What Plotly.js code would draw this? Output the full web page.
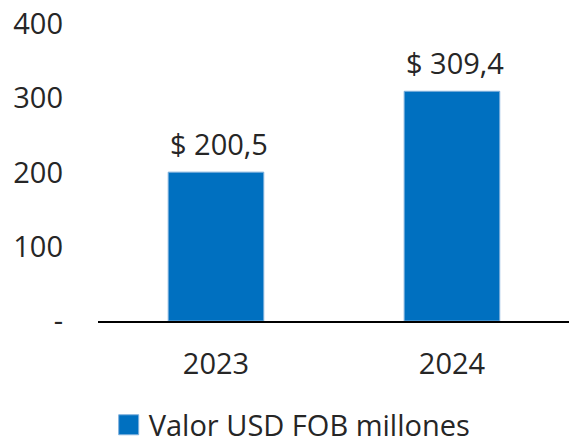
<!DOCTYPE html>
<html>
<head>
<meta charset="utf-8">
<script src="https://cdn.plot.ly/plotly-3.0.1.min.js"></script>
<style>html,body{margin:0;padding:0;background:#fff;}#chart{width:569px;height:444px;}</style>
</head>
<body>
<div id="chart"></div>
<script>
var categories = ['2023', '2024'];
var values = [200.5, 309.4];
var seriesName = 'Valor USD FOB millones';
var yTickVals = [0, 100, 200, 300, 400];
var yTickText = ['-', '100', '200', '300', '400'];

var fontFam = '"Open Sans", "Noto Sans", sans-serif';
var txtColor = '#262626';
var fs = 29;

var labels = values.map(function (v) { return '$ ' + v.toFixed(1).replace('.', ','); });

var trace = {
  type: 'bar',
  x: categories,
  y: values,
  name: seriesName,
  marker: { color: '#0070C0', line: { color: '#7fb0dc', width: 1 } },
  hoverinfo: 'none'
};

var annotations = categories.map(function (c, i) {
  return {
    x: i, y: values[i], xref: 'x', yref: 'y',
    text: labels[i], showarrow: false,
    yanchor: 'bottom', yshift: 7, xshift: 3,
    font: { family: fontFam, size: fs, color: txtColor }
  };
});

var layout = {
  width: 569, height: 444,
  margin: { l: 98, r: 0, t: 24, b: 123, autoexpand: false },
  paper_bgcolor: '#fff', plot_bgcolor: '#fff',
  font: { family: fontFam, size: fs, color: txtColor },
  bargap: 0.595,
  showlegend: true,
  legend: {
    orientation: 'h', xref: 'container', yref: 'container',
    x: 0.191, xanchor: 'left', y: 0.043, yanchor: 'middle',
    font: { family: fontFam, size: fs, color: txtColor },
    bgcolor: 'rgba(0,0,0,0)'
  },
  xaxis: {
    type: 'category', range: [-0.5, 1.496],
    showline: true, linecolor: '#000', linewidth: 1.5,
    showgrid: false, zeroline: false, ticks: '',
    ticklabelstandoff: 17,
    tickfont: { family: fontFam, size: fs, color: txtColor },
    fixedrange: true, automargin: false
  },
  yaxis: {
    range: [0, 400], tickvals: yTickVals, ticktext: yTickText,
    showline: false, showgrid: false, zeroline: false, ticks: '',
    ticklabelstandoff: 34,
    tickfont: { family: fontFam, size: fs, color: txtColor },
    fixedrange: true, automargin: false
  },
  annotations: annotations
};

Plotly.newPlot('chart', [trace], layout, { displayModeBar: false, staticPlot: true }).then(function () {
  var ps = document.querySelectorAll('path.legendbar, .legendpoints path');
  ps.forEach(function (p) {
    var d = p.getAttribute('d');
    if (d) { p.setAttribute('d', 'M10,10H-10V-10H10Z'); }
  });
});
</script>
</body>
</html>
